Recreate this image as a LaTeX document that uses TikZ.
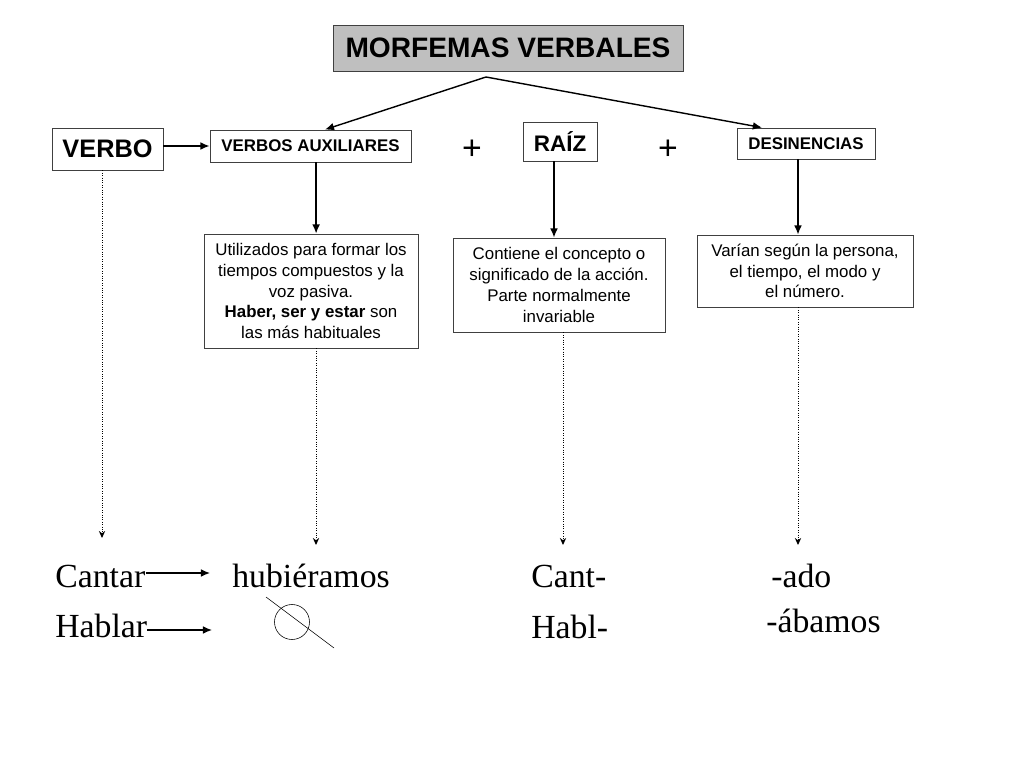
\documentclass[tikz,border=0pt]{standalone}
\usepackage{fontspec}
\setmainfont{Liberation Serif}
\setsansfont{Liberation Sans}
\usetikzlibrary{arrows.meta}

\begin{document}
\begin{tikzpicture}[x=0.025cm, y=-0.025cm,
    box/.style={draw=black!75, semithick, align=center, inner sep=2pt,
        font=\sffamily\fontsize{12}{14.8}\selectfont},
    head/.style={box, font=\sffamily\bfseries\fontsize{12}{14}\selectfont},
    word/.style={anchor=base west, inner sep=0pt, font=\fontsize{24}{28}\selectfont},
    plus/.style={font=\sffamily\fontsize{24}{28}\selectfont},
    link/.style={line width=1pt, -{Latex[length=6.5pt,width=5.5pt]}},
    trace/.style={densely dotted, line width=0.7pt, -{Stealth[length=5pt,width=4.5pt]}}]
    \useasboundingbox (0,0) rectangle (1024,768);

    % top row
    \node[head, fill=black!25, minimum width=8.75cm, minimum height=1.15cm,
        font=\sffamily\bfseries\fontsize{20}{24}\selectfont] (morfemas) at (508,48) {MORFEMAS VERBALES};
    \coordinate (apex) at (486,77);
    \node[head, minimum width=2.775cm, minimum height=1.05cm,
        font=\sffamily\bfseries\fontsize{18}{22}\selectfont] (verbo) at (107.5,149) {VERBO};
    \node[head, minimum width=5.025cm, minimum height=0.8cm] (aux) at (310.5,146) {VERBOS AUXILIARES};
    \node[head, minimum width=1.85cm, minimum height=0.975cm,
        font=\sffamily\bfseries\fontsize{16}{19}\selectfont] (raiz) at (560,141.5) {RAÍZ};
    \node[head, minimum width=3.45cm, minimum height=0.775cm] (desin) at (806,143.5) {DESINENCIAS};
    \node[plus] (plusA) at (472,150) {+};
    \node[plus] (plusB) at (668,150) {+};

    % explanation boxes
    \node[box, minimum width=5.35cm, minimum height=2.85cm] (util) at (311,291)
        {Utilizados para formar los\\ tiempos compuestos y la\\ voz pasiva.\\
         \textbf{Haber, ser y estar} son\\ las más habituales};
    \node[box, minimum width=5.3cm, minimum height=2.35cm] (contiene) at (559,285)
        {Contiene el concepto o\\ significado de la acción.\\ Parte normalmente\\ invariable};
    \node[box, minimum width=5.4cm, minimum height=1.8cm] (varian) at (805,271)
        {Varían según la persona,\\ el tiempo, el modo y\\ el número.};

    % examples
    \node[word] (cantar) at (55,587) {Cantar};
    \node[word] (hub) at (232,587) {hubiéramos};
    \node[word] (cant) at (531,587) {Cant-};
    \node[word] (ado) at (771,587) {-ado};
    \node[word] (hablar) at (55,637) {Hablar};
    \node[word] (habl) at (531,638) {Habl-};
    \node[word] (abamos) at (766,632) {-ábamos};
    \node[draw, thin, circle, minimum size=0.875cm, inner sep=0pt] (vacio) at (292,622) {};
    \coordinate (barA) at (266,597);
    \coordinate (barB) at (334,648);
    \draw[thin] (barA) -- (barB);

    % connectors
    \draw[link] (apex) -- ([xshift=0.36cm]aux.north);
    \draw[link] (apex) -- ([xshift=-1.1cm]desin.north);
    \draw[link] (verbo.east |- aux) -- (aux.west);
    \draw[link] ([xshift=0.14cm]aux.south) coordinate (auxFoot) -- (auxFoot |- util.north);
    \draw[link] ([xshift=-0.15cm]raiz.south) coordinate (raizFoot) -- (raizFoot |- contiene.north);
    \draw[link] ([xshift=-0.2cm]desin.south) coordinate (desinFoot) -- (desinFoot |- varian.north);

    \coordinate (endVerbo) at (102,538);
    \coordinate (endRow) at (0,545);
    \draw[trace] (endVerbo |- verbo.south) -- (endVerbo);
    \draw[trace] ([xshift=0.125cm]util.south) coordinate (utilFoot) -- (utilFoot |- endRow);
    \draw[trace] ([xshift=0.1cm]contiene.south) coordinate (contFoot) -- (contFoot |- endRow);
    \draw[trace] ([xshift=-0.175cm]varian.south) coordinate (varFoot) -- (varFoot |- endRow);

    \coordinate (cantarEnd) at (210,573);
    \coordinate (hablarEnd) at (212,630);
    \draw[link, line width=0.8pt] (cantar.east |- cantarEnd) -- (cantarEnd);
    \draw[link, line width=0.8pt] (hablar.east |- hablarEnd) -- (hablarEnd);
\end{tikzpicture}
\end{document}
